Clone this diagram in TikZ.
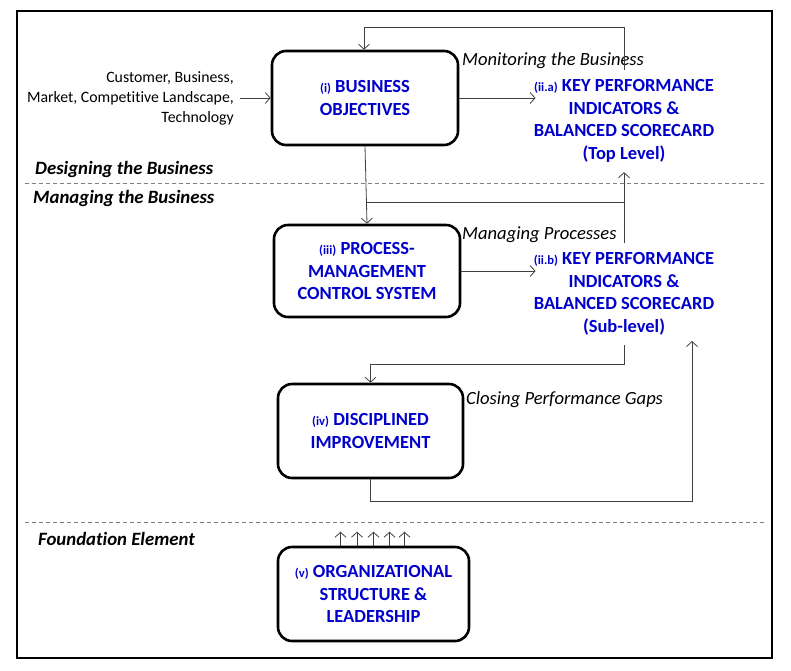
\documentclass[tikz,border=0pt]{standalone}
\usepackage{fontspec}
\setmainfont[Ligatures=NoCommon]{Carlito}
\usetikzlibrary{arrows.meta,calc}
\definecolor{kblue}{HTML}{0000CC}
\definecolor{lgray}{HTML}{404040}
\begin{document}
\begin{tikzpicture}[x=1pt,y=-1pt,
  box/.style={draw=black,line width=2.6pt,rounded corners=14pt,align=center,
    font=\fontsize{18.5}{22.5}\selectfont\bfseries,text=kblue,inner sep=0pt},
  kpi/.style={align=center,font=\fontsize{18.5}{22.5}\selectfont\bfseries,text=kblue,
    inner xsep=0pt,minimum height=102pt},
  arr/.style={-{Straight Barb[length=5pt,width=11pt]},line width=0.8pt,draw=lgray},
  con/.style={line width=0.8pt,draw=lgray},
  lab/.style={anchor=west,inner sep=0pt,font=\fontsize{18.6}{20}\selectfont\itshape},
  sec/.style={anchor=west,inner sep=0pt,font=\fontsize{18.8}{20}\selectfont\bfseries\itshape},
  sepline/.style={dashed,dash pattern=on 4pt off 3pt,draw=gray,line width=0.8pt}]
\newcommand{\pfx}[1]{{\fontsize{12.6}{12}\selectfont #1}}
\useasboundingbox (0,0) rectangle (791,670);
\draw[line width=2pt] (17,11) rectangle (772,658);
% separators
\draw[sepline] (25,183) -- (765,183);
\draw[sepline] (25,522) -- (765,522);
% section labels
\node[sec] (s1) at (35,169) {Designing the Business};
\node[sec] (s2) at (33,198) {Managing the Business};
\node[sec] (s3) at (38,539) {Foundation Element};
% boxes
\node[box,minimum width=186pt,minimum height=94pt] (bo) at (365,98)
  {\pfx{(i)} BUSINESS\\OBJECTIVES};
\node[box,minimum width=186pt,minimum height=92pt] (pm) at (367,271)
  {\pfx{(iii)} PROCESS-\\MANAGEMENT\\CONTROL SYSTEM};
\node[box,minimum width=185pt,minimum height=94pt] (di) at (370.5,431)
  {\pfx{(iv)} DISCIPLINED\\IMPROVEMENT};
\node[box,minimum width=191pt,minimum height=94pt] (org) at (373.5,594)
  {\pfx{(v)} ORGANIZATIONAL\\STRUCTURE \&\\LEADERSHIP};
% KPI texts
\node[kpi] (kpia) at (624,121)
  {\pfx{(ii.a)} KEY PERFORMANCE\\INDICATORS \&\\BALANCED SCORECARD\\(Top Level)};
\node[kpi] (kpib) at (624,294)
  {\pfx{(ii.b)} KEY PERFORMANCE\\INDICATORS \&\\BALANCED SCORECARD\\(Sub-level)};
% input text
\node[align=right,anchor=east,inner sep=0pt,font=\fontsize{15.8}{20}\selectfont] (inp) at (234,98)
  {Customer, Business,\\Market, Competitive Landscape,\\Technology};
% italic labels
\node[lab] (l1) at (462,61) {Monitoring the Business};
\node[lab] (l2) at (462,235) {Managing Processes};
\node[lab] (l3) at (466,400) {Closing Performance Gaps};
% coordinates
\coordinate (top) at (0,27);
\coordinate (j1) at (0,202);
\coordinate (j2) at (0,364);
\coordinate (j3) at (692,501);
\coordinate (e3) at (692,341);
\coordinate (mid) at ($(bo.south)!0.5!(pm.north)$);
% connectors
\draw[arr] ([xshift=6pt]inp.east) -- (bo.west);
\draw[arr] (bo.east) -- ([xshift=2pt]bo.east -| kpia.west);
\draw[arr] (kpia.north) -- (kpia.north |- top) -| ([xshift=-1pt]bo.north);
\draw[arr] (bo.south) -- (pm.north);
\draw[arr] (kpib.north) -- (kpia.south);
\draw[con] (kpia.south |- j1) -- (mid |- j1);
\draw[arr] (pm.east) -- ([xshift=2pt]pm.east -| kpib.west);
\draw[arr] (kpib.south) -- (kpib.south |- j2) -| (di.north);
\draw[arr] (di.south) |- (j3) -- (e3);
\foreach \dx in {-33,-16.5,0,16,31}
  \draw[arr] ([xshift=\dx pt]org.north) -- ++(0,-14);
\end{tikzpicture}
\end{document}
